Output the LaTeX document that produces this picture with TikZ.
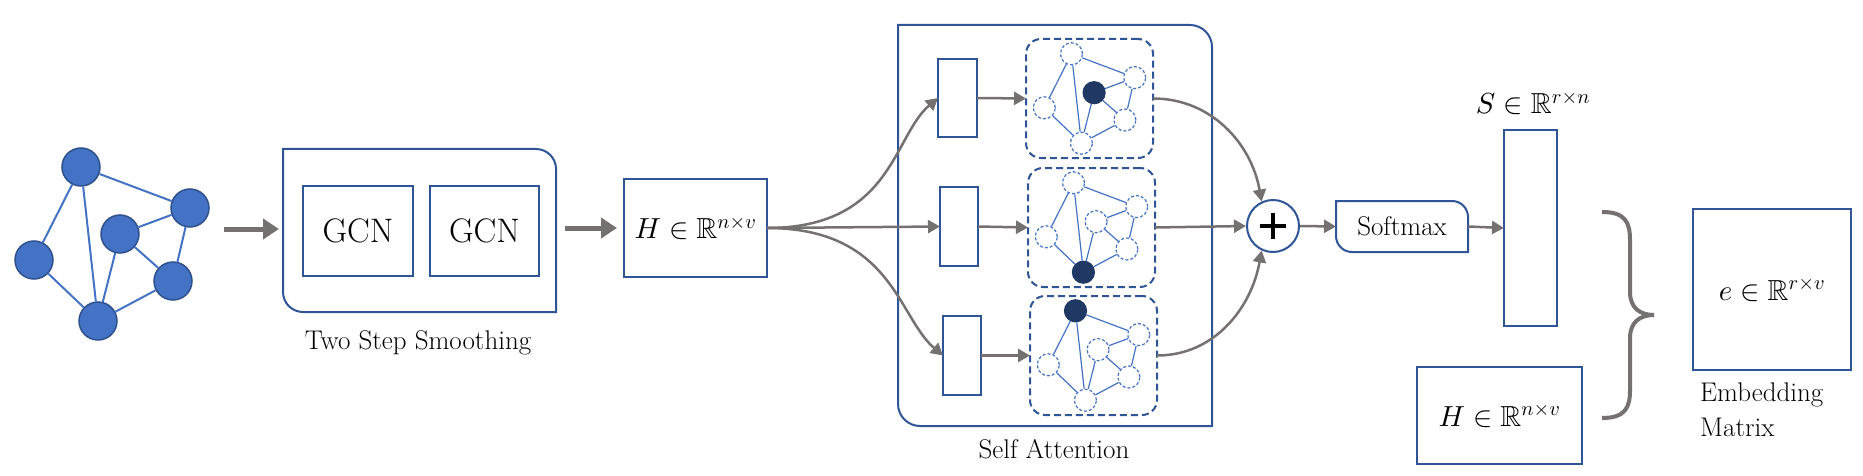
\documentclass[tikz,border=0pt]{standalone}
\usepackage{amssymb}
\usepackage{fontspec}
\setmainfont{Latin Modern Roman}
\DeclareFontShape{OML}{cmm}{m}{it}{<->cmmi10}{}
\DeclareFontShape{OMS}{cmsy}{m}{n}{<->cmsy10}{}
\DeclareFontShape{OT1}{cmr}{m}{n}{<->cmr10}{}
\usetikzlibrary{arrows.meta}
\definecolor{boxblue}{HTML}{2F5597}
\definecolor{nodeblue}{HTML}{4472C4}
\definecolor{nodeborder}{HTML}{2F528F}
\definecolor{navy}{HTML}{1F3864}
\definecolor{arrgray}{HTML}{767171}
\tikzset{
 frame/.style={inner sep=0pt, outer sep=0pt, draw=none},
 box/.style={draw=boxblue, line width=2pt, inner sep=0pt, outer sep=0pt},
 outline/.style={draw=boxblue, line width=2pt},
 dbox/.style={draw=boxblue, line width=2pt, dash pattern=on 7pt off 4pt, rounded corners=15pt, inner sep=0pt, outer sep=0pt},
 gnode/.style={circle, fill=nodeblue, draw=nodeborder, line width=1.5pt, minimum size=38pt, inner sep=0pt},
 gedge/.style={draw=nodeblue, line width=2pt},
 mnode/.style={circle, draw=nodeblue, dash pattern=on 3pt off 2pt, line width=1.2pt, fill=white, minimum size=22pt, inner sep=0pt},
 mfill/.style={solid, fill=navy, draw=navy},
 medge/.style={draw=nodeblue, line width=1.2pt},
 sel/.code={\edef\tmpa{#1}\ifx\tmpa\filledname\tikzset{mfill}\fi},
 bigarrow/.style={draw=arrgray, line width=5pt, -{Triangle[length=16pt,width=20pt]}},
 arr/.style={draw=arrgray, line width=2.5pt, -{Triangle[length=12pt,width=13pt]}},
 lbl/.style={font=\fontsize{27}{33}\selectfont, inner sep=0pt},
 gcnlbl/.style={font=\fontsize{34}{38}\selectfont},
 mathlbl/.style={font=\fontsize{29}{35}\selectfont, inner sep=0pt},
}
\newcommand\diagoutline[2]{\draw[outline] (#1.north west) -- ([xshift=-#2]#1.north east) arc[start angle=90,end angle=0,radius=#2] -- (#1.south east) -- ([xshift=#2]#1.south west) arc[start angle=270,end angle=180,radius=#2] -- cycle;}
\newcommand\minig[3]{%
 \def\filledname{#3}%
 \begin{scope}[shift={(#2.center)}]
 \foreach \n/\dx/\dy in {top/-18/44.7, left/-45.2/-9.3, bot/-8.1/-44.7, mid/4.6/5.8, rt/45.2/20.9, rb/35.4/-21.5}
   \node[mnode, sel=\n] (#1-\n) at (\dx,\dy) {};
 \end{scope}
 \draw[medge] (#1-top) -- (#1-left) (#1-top) -- (#1-bot) (#1-top) -- (#1-rt) (#1-mid) -- (#1-rt) (#1-mid) -- (#1-bot) (#1-mid) -- (#1-rb) (#1-rt) -- (#1-rb) (#1-left) -- (#1-bot) (#1-bot) -- (#1-rb);
}
\begin{document}
\begin{tikzpicture}[x=1pt,y=1pt]
\useasboundingbox (0,0) rectangle (1863,-476);
% input graph
\node[gnode] (g-top) at (81,-167) {};
\node[gnode] (g-left) at (34,-260) {};
\node[gnode] (g-bot) at (98,-321) {};
\node[gnode] (g-mid) at (120,-234) {};
\node[gnode] (g-rt) at (190,-208) {};
\node[gnode] (g-rb) at (173,-281) {};
\draw[gedge] (g-top) -- (g-left) (g-top) -- (g-bot) (g-top) -- (g-rt) (g-mid) -- (g-rt) (g-mid) -- (g-bot) (g-mid) -- (g-rb) (g-rt) -- (g-rb) (g-left) -- (g-bot) (g-bot) -- (g-rb);
% two step smoothing
\node[frame, minimum width=273pt, minimum height=163pt] (tss) at (419.5,-230.5) {};
\diagoutline{tss}{20pt}
\node[box, minimum width=110pt, minimum height=90pt, gcnlbl] (gcn1) at (358,-231) {GCN};
\node[box, minimum width=109pt, minimum height=90pt, gcnlbl] (gcn2) at (484.5,-231) {GCN};
\node[lbl] (tsslbl) at (418,-343) {Two Step Smoothing};
\coordinate (a1) at (224,-229);
\draw[bigarrow, shorten >=4pt] (a1) -- (a1 -| tss.west);
% H box
\node[box, minimum width=143pt, minimum height=98pt, mathlbl] (hbox) at (695.5,-228) {$H \in \mathbb{R}^{n\times v}$};
\draw[bigarrow, shorten <=9pt, shorten >=7pt] (tss.east |- hbox.west) -- (hbox.west);
% self attention
\node[frame, minimum width=314pt, minimum height=401pt] (sa) at (1055,-225.5) {};
\diagoutline{sa}{22pt}
\node[lbl] (salbl) at (1054,-449) {Self Attention};
\node[box, minimum width=39pt, minimum height=78pt] (r1) at (957.5,-98) {};
\node[box, minimum width=38pt, minimum height=79pt] (r2) at (959,-226.5) {};
\node[box, minimum width=38pt, minimum height=79pt] (r3) at (962,-355.5) {};
\node[dbox, minimum width=127pt, minimum height=119pt] (d1) at (1089.5,-98.5) {};
\node[dbox, minimum width=127pt, minimum height=119pt] (d2) at (1091.5,-227.5) {};
\node[dbox, minimum width=127pt, minimum height=119pt] (d3) at (1093.5,-355.5) {};
\minig{m1}{d1}{mid}
\minig{m2}{d2}{bot}
\minig{m3}{d3}{top}
\draw[arr] (hbox.east) .. controls +(125,0) and +(-45,-38) .. (r1.west);
\draw[arr] (hbox.east) -- (r2.west);
\draw[arr] (hbox.east) .. controls +(125,0) and +(-45,38) .. (r3.west);
\draw[arr] (r1.east) -- (d1.west);
\draw[arr] (r2.east) -- (d2.west);
\draw[arr] (r3.east) -- (d3.west);
% plus
\node[circle, draw=boxblue, line width=2pt, minimum size=52pt, inner sep=0pt, fill=white] (plus) at (1273,-226) {};
\draw[line width=4pt] ([xshift=-13pt]plus.center) -- ([xshift=13pt]plus.center) ([yshift=-13pt]plus.center) -- ([yshift=13pt]plus.center);
\draw[arr] (d1.east) to[out=0,in=100] (plus.115);
\draw[arr] (d2.east) -- (plus.west);
\draw[arr] (d3.east) to[out=0,in=-100] (plus.-115);
% softmax
\node[frame, minimum width=132pt, minimum height=51pt, lbl] (soft) at (1402,-226.5) {Softmax};
\diagoutline{soft}{16pt}
\draw[arr] (plus.east) -- (soft.west);
% S box
\node[box, minimum width=53pt, minimum height=196pt] (sbox) at (1530.5,-228) {};
\node[mathlbl] (slbl) at (1533,-103) {$S \in \mathbb{R}^{r\times n}$};
\draw[arr] (soft.east) -- (sbox.west);
% H box 2
\node[box, minimum width=165pt, minimum height=97pt, mathlbl] (hbox2) at (1499.5,-415.5) {$H \in \mathbb{R}^{n\times v}$};
% brace
\draw[arrgray, line width=4pt] (1602,-212) .. controls (1625,-212) and (1630,-222) .. (1630,-240) -- (1630,-292) .. controls (1630,-308) and (1640,-315) .. (1654,-315) .. controls (1640,-315) and (1630,-322) .. (1630,-338) -- (1630,-390) .. controls (1630,-408) and (1625,-418) .. (1602,-418);
% embedding
\node[box, minimum width=158pt, minimum height=161pt, mathlbl] (ebox) at (1772,-289.5) {$e \in \mathbb{R}^{r\times v}$};
\node[lbl, font=\fontsize{27}{35}\selectfont, align=left, anchor=west] (elbl) at (1700,-410) {Embedding\\Matrix};
\end{tikzpicture}
\end{document}
